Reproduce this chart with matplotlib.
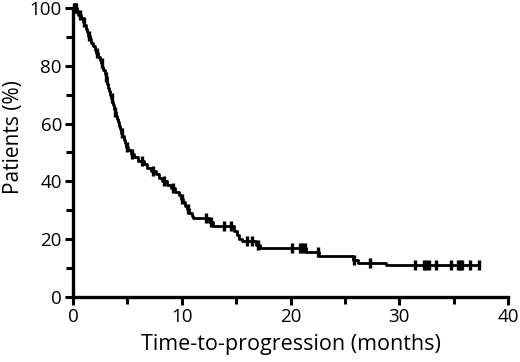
import matplotlib
matplotlib.use("Agg")
import matplotlib.pyplot as plt

plt.rcParams['font.family'] = ['Open Sans', 'DejaVu Sans']

# Kaplan-Meier steps: (time in months, % still progression-free)
step_times = [0.0, 0.35, 0.5, 0.7, 0.9, 1.05, 1.2, 1.3, 1.4,
              1.55, 1.7, 1.85, 2.0, 2.15, 2.3, 2.45,
              2.6, 2.7, 2.8, 2.9, 3.0, 3.1, 3.15, 3.25, 3.35, 3.4,
              3.5, 3.6, 3.65, 3.75, 3.85, 3.95, 4.05, 4.1, 4.2,
              4.35, 4.45, 4.55, 4.65, 4.75, 4.9, 5.1, 5.35, 5.6,
              6.0, 6.5, 6.8, 7.2, 7.6, 7.9, 8.2, 8.6, 9.0, 9.4, 9.7,
              9.9, 10.1, 10.3, 10.5, 10.7, 10.9, 11.0,
              12.5, 12.9, 14.8, 15.1, 15.3, 15.5, 16.8, 17.2,
              21.4, 22.6, 25.7, 26.2, 28.8]
step_surv = [100.0, 98.8, 97.6, 96.4, 95.2, 94.0, 92.8, 91.6, 90.4,
             89.2, 88.0, 86.8, 85.6, 84.4, 83.2, 82.0,
             80.8, 79.6, 78.4, 77.2, 76.0, 74.8, 73.6, 72.4, 71.2, 70.0,
             68.8, 67.6, 66.4, 65.2, 64.0, 62.8, 61.6, 60.4, 59.2,
             58.0, 56.8, 55.6, 54.4, 53.2, 52.0, 50.8, 49.6, 48.4,
             47.2, 46.0, 44.8, 43.6, 42.4, 41.2, 40.0, 38.8, 37.6, 36.4, 35.2,
             34.0, 32.8, 31.6, 30.4, 29.2, 28.0, 27.2,
             25.8, 24.4, 23.0, 21.6, 20.2, 19.2, 18.0, 17.0,
             15.6, 14.3, 12.9, 11.8, 11.1]
end_time = 37.3

# censored patients (vertical ticks on the curve)
censor_times = [0.1, 0.2, 0.3, 0.6, 1.0, 1.5, 2.2, 2.65, 3.05, 3.55, 3.9,
                4.5, 5.0, 5.45, 6.3, 7.4, 8.4, 9.2,
                10.0, 10.6, 12.2, 12.7, 13.9, 14.5, 16.0, 16.5, 17.0,
                20.1, 20.9, 21.1, 21.3, 22.5, 25.8, 27.3,
                31.4, 32.3, 32.5, 32.7, 33.35, 34.8, 35.4, 35.6, 35.8,
                36.5, 37.3]


def surv_at(t):
    s = step_surv[0]
    for st, sv in zip(step_times, step_surv):
        if st <= t:
            s = sv
    return s


fig = plt.figure(figsize=(5.2, 3.62), dpi=100)
ax = fig.add_axes([0.1404, 0.1796, 0.8366, 0.7983])

ax.step(step_times + [end_time], step_surv + [step_surv[-1]], where='post',
        color='black', linewidth=2.0, clip_on=False)
ax.plot(censor_times, [surv_at(t) for t in censor_times], linestyle='none',
        marker='|', markersize=6.5, markeredgewidth=2.4, color='black',
        clip_on=False)

ax.set_xlim(0, 40)
ax.set_ylim(0, 100)
ax.set_xticks([0, 10, 20, 30, 40])
ax.set_xticks([5, 15, 25, 35], minor=True)
ax.set_yticks([0, 20, 40, 60, 80, 100])
ax.set_yticks([10, 30, 50, 70, 90], minor=True)

for side in ['top', 'right']:
    ax.spines[side].set_visible(False)
for side in ['left', 'bottom']:
    ax.spines[side].set_linewidth(2.4)

ax.tick_params(which='major', direction='out', length=6, width=2.2,
               labelsize=13.5, pad=2, colors='black')
ax.tick_params(which='minor', direction='out', length=5, width=2.2)

ax.set_xlabel('Time-to-progression (months)', fontsize=15.5, labelpad=6)
ax.set_ylabel('Patients (%)', fontsize=15)
ax.yaxis.set_label_coords(-0.112, 0.555)

fig.savefig('out.png', dpi=100)
